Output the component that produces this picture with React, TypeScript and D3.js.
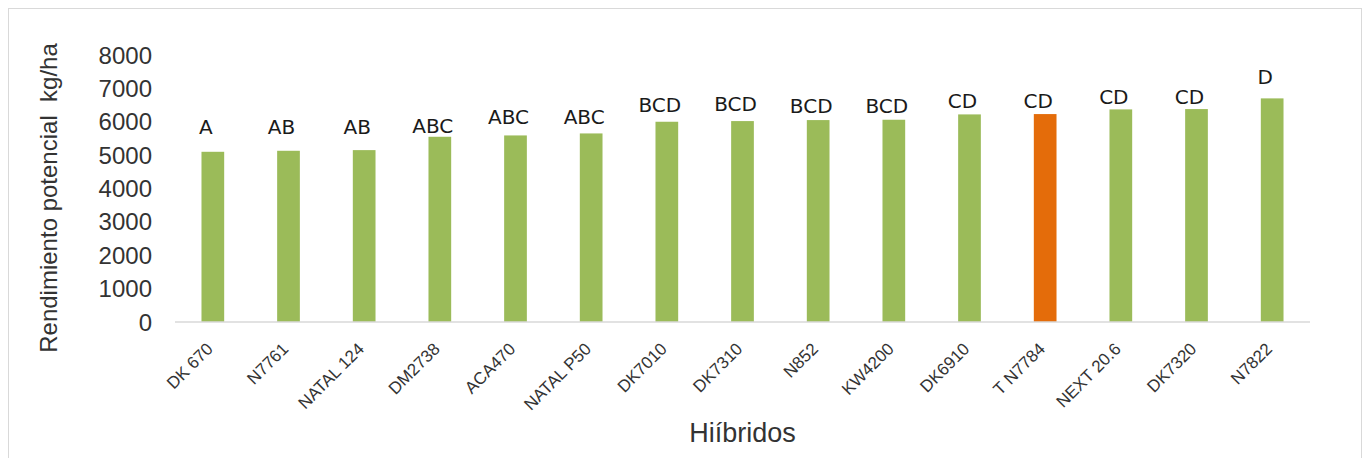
import React from "react";
import * as d3 from "d3";

const width = 1365;
const height = 458;
const margin = { top: 55, right: 55, bottom: 136, left: 175 };
const green = "#9bbb59";
const orange = "#e46c0a";

// hybrids and potential yield (kg/ha)
const hybrids = [
  "DK 670", "N7761", "NATAL 124", "DM2738", "ACA470", "NATAL P50", "DK7010",
  "DK7310", "N852", "KW4200", "DK6910", "T N7784", "NEXT 20.6", "DK7320", "N7822"
];
const yields = [5100, 5130, 5150, 5550, 5590, 5650, 6000, 6020, 6050, 6060, 6220, 6230, 6370, 6380, 6700];
// significance letters and the level (kg/ha) where each one sits
const letters = ["A", "AB", "AB", "ABC", "ABC", "ABC", "BCD", "BCD", "BCD", "BCD", "CD", "CD", "CD", "CD", "D"];
const letterLevels = [5630, 5630, 5630, 5660, 5930, 5930, 6290, 6320, 6260, 6260, 6410, 6410, 6530, 6530, 7130];
const highlighted = "T N7784";
const yTicks = [0, 1000, 2000, 3000, 4000, 5000, 6000, 7000, 8000];

export default function App() {
  const x = d3
    .scaleBand()
    .domain(hybrids)
    .range([margin.left, width - margin.right])
    .paddingInner(0.7)
    .paddingOuter(0.35);
  const y = d3
    .scaleLinear()
    .domain([0, 8000])
    .range([height - margin.bottom, margin.top]);
  const base = y(0);

  return (
    <svg
      width={width}
      height={height}
      style={{ position: "absolute", left: 0, top: 0 }}
      fontFamily="'Liberation Sans', Arial, sans-serif"
    >
      <rect x={8.5} y={8.5} width={1353} height={470} fill="#fff" stroke="#d9d9d9" />

      {/* y axis tick labels */}
      <g fill="#333" fontSize={24} textAnchor="end">
        {yTicks.map(t => (
          <text key={t} x={152} y={y(t)} dominantBaseline="central">
            {t}
          </text>
        ))}
      </g>

      {/* bars */}
      <g>
        {hybrids.map((h, i) => (
          <rect
            key={h}
            x={x(h)}
            y={y(yields[i])}
            width={x.bandwidth()}
            height={base - y(yields[i])}
            fill={h === highlighted ? orange : green}
          />
        ))}
      </g>

      {/* baseline */}
      <line x1={margin.left} x2={width - margin.right} y1={base} y2={base} stroke="#d9d9d9" strokeWidth={1.5} />

      {/* letters */}
      <g fontFamily="'DejaVu Sans', sans-serif" fontSize={20} fill="#1a1a1a" textAnchor="middle">
        {hybrids.map((h, i) => (
          <text key={h} x={x(h)! + x.bandwidth() / 2 - 7} y={y(letterLevels[i])}>
            {letters[i]}
          </text>
        ))}
      </g>

      {/* x tick labels */}
      <g fill="#333" fontSize={17} textAnchor="end">
        {hybrids.map(h => (
          <text
            key={h}
            transform={`translate(${x(h)! + x.bandwidth() / 2 + 1}, ${base + 28}) rotate(-45)`}
          >
            {h}
          </text>
        ))}
      </g>

      {/* axis titles */}
      <text x={(margin.left + width - margin.right) / 2} y={442} textAnchor="middle" fontSize={27} fill="#333">
        Hiíbridos
      </text>
      <text
        transform={`translate(57, 198) rotate(-90)`}
        textAnchor="middle"
        fontSize={24}
        fill="#333"
        style={{ whiteSpace: "pre" }}
      >
        Rendimiento potencial  kg/ha
      </text>
    </svg>
  );
}
